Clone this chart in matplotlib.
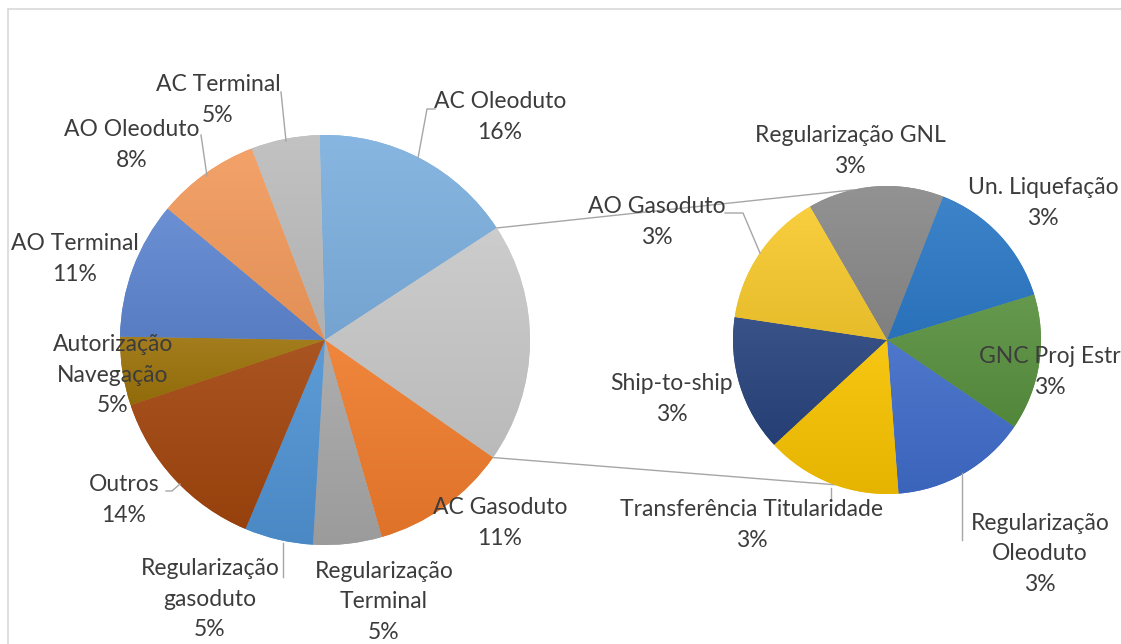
import matplotlib.pyplot as plt
import matplotlib.colors as mcolors
import numpy as np

# main pie (clockwise from the top); "outros" group = sum of the small pie
main_labels = ['AC Oleoduto', '', 'AC Gasoduto', 'Regularização\nTerminal',
               'Regularização\ngasoduto', 'Outros', 'Autorização\nNavegação',
               'AO Terminal', 'AO Oleoduto', 'AC Terminal']
main_counts = [6, None, 4, 2, 2, 5, 2, 4, 3, 2]
main_colors = ['#7db0df', '#c8c8c8', '#ef7b2c', '#a7a7a7', '#4f93d3',
               '#a2460e', '#9c720a', '#5f86d0', '#f29a5c', '#bdbdbd']

# secondary pie (clockwise)
sub_labels = ['Regularização GNL', 'Un. Liquefação', 'GNC Proj Estr',
              'Regularização\nOleoduto', 'Transferência Titularidade',
              'Ship-to-ship', 'AO Gasoduto']
sub_counts = [1, 1, 1, 1, 1, 1, 1]
sub_colors = ['#898989', '#2c79c6', '#58903e', '#3f6cc8', '#f7c200',
              '#28447e', '#f8ca2e']

main_counts[1] = sum(sub_counts)
total = sum(main_counts)

W, H = 1121, 644
fig = plt.figure(figsize=(W / 100, H / 100), dpi=100)
ax = fig.add_axes([0, 0, 1, 1])


def shade(ax, wedges, colors):
    # soft vertical gradient on each slice, like the office preset
    for w, c in zip(wedges, colors):
        rgb = np.array(mcolors.to_rgb(c))
        top = rgb + (1 - rgb) * 0.08
        bot = rgb * 0.93
        t = np.linspace(0, 1, 100)[:, None, None]
        grad = bot * (1 - t) + top * t
        bb = w.get_path().get_extents()
        im = ax.imshow(grad, extent=[bb.x0, bb.x1, bb.y0, bb.y1],
                       origin='lower', aspect='auto', zorder=2)
        im.set_clip_path(w)


main_c = (325, H - 340)
main_r = 205
mw, _ = ax.pie(main_counts, colors=main_colors, startangle=91.5,
               counterclock=False, center=main_c, radius=main_r,
               wedgeprops=dict(linewidth=0))
shade(ax, mw, main_colors)

sub_c = (887, H - 340)
sub_r = 154
sw, _ = ax.pie(sub_counts, colors=sub_colors, startangle=120,
               counterclock=False, center=sub_c, radius=sub_r,
               wedgeprops=dict(linewidth=0))
shade(ax, sw, sub_colors)

ax.set_xlim(0, W)
ax.set_ylim(0, H)
ax.set_aspect('equal')
ax.axis('off')

line_kw = dict(color='#a6a6a6', lw=1, zorder=1)


def on_circle(c, r, ang):
    a = np.deg2rad(ang)
    return c[0] + r * np.cos(a), c[1] + r * np.sin(a)


# connector lines between the grouped slice and the small pie
g = mw[1]
p1 = on_circle(main_c, main_r, g.theta2)
p2 = on_circle(main_c, main_r, g.theta1)
q1 = on_circle(sub_c, sub_r, 103)
q2 = on_circle(sub_c, sub_r, -110)
ax.plot([p1[0], q1[0]], [p1[1], q1[1]], **line_kw)
ax.plot([p2[0], q2[0]], [p2[1], q2[1]], **line_kw)

# labels
txt_kw = dict(ha='center', va='center', fontsize=16.5, color='#3c3c3c',
              family=['Lato', 'DejaVu Sans'], linespacing=1.55, zorder=5)
main_pos = [(500, 117), None, (500, 523), (384, 602), (210, 599),
            (124, 500), (113, 375), (75, 259), (132, 145), (218, 100)]
sub_pos = [(850, 151), (1043, 203), (1050, 372), (1040, 554),
           (752, 525), (672, 399), (657, 222)]

for lab, n, pos in zip(main_labels, main_counts, main_pos):
    if pos is None:
        continue
    ax.text(pos[0], H - pos[1], '%s\n%.0f%%' % (lab, 100 * n / total), **txt_kw)
for lab, n, pos in zip(sub_labels, sub_counts, sub_pos):
    ax.text(pos[0], H - pos[1], '%s\n%.0f%%' % (lab, 100 * n / total), **txt_kw)

# leader lines
leaders = [
    [(281, 92), (286, 141)],
    [(435, 109), (427, 109), (418, 158)],
    [(201, 135), (207, 176)],
    [(166, 491), (172, 491), (180, 484)],
    [(283, 543), (283, 577)],
    [(725, 213), (743, 213), (760, 253)],
    [(831, 488), (831, 500)],
    [(962, 473), (962, 540)],
]
for pts in leaders:
    xs = [p[0] for p in pts]
    ys = [H - p[1] for p in pts]
    ax.plot(xs, ys, color='#a6a6a6', lw=1, zorder=4)

# chart border
ax.plot([8, W], [H - 9, H - 9], color='#d9d9d9', lw=1.2, zorder=1)
ax.plot([8, 8], [H - 9, 0], color='#d9d9d9', lw=1.2, zorder=1)

fig.savefig('out.png', dpi=100)
